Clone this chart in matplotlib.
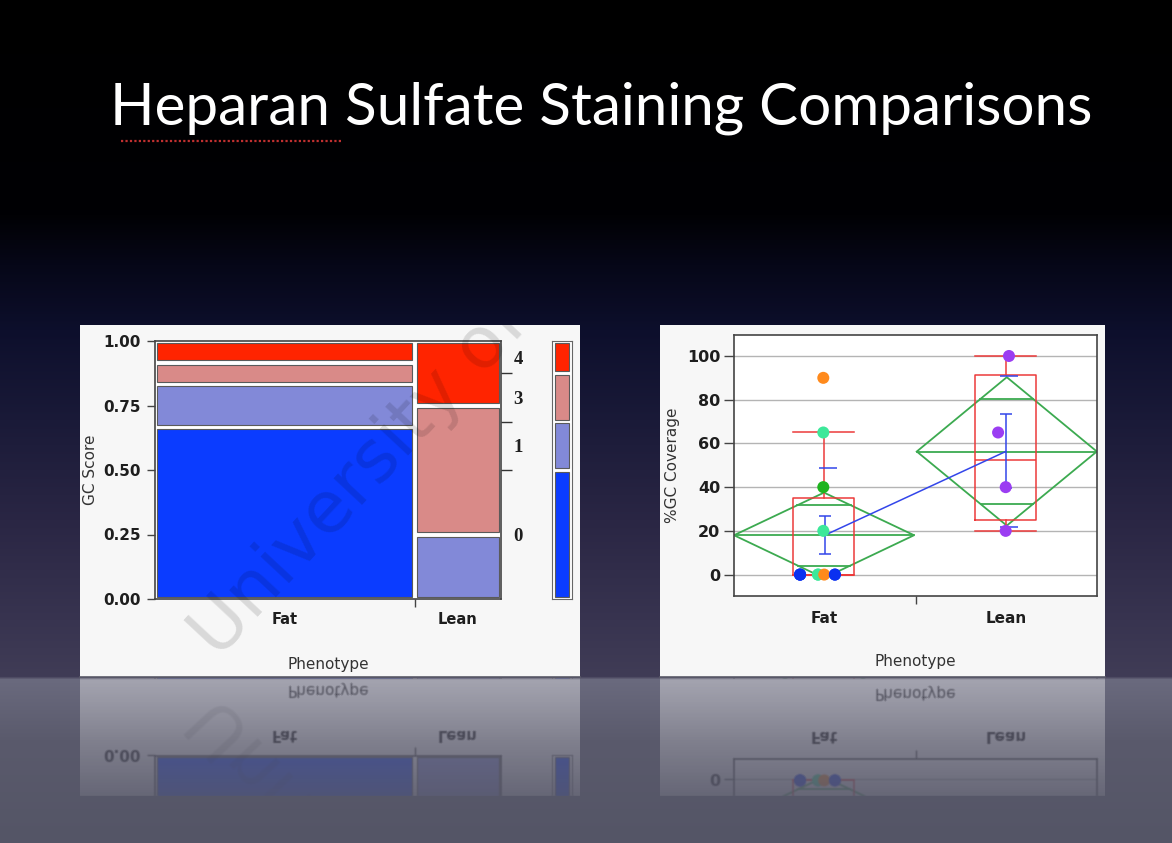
import numpy as np
import matplotlib.pyplot as plt
from matplotlib.patches import Rectangle, Polygon
from matplotlib.lines import Line2D

W, H = 1172, 843

title = 'Heparan Sulfate Staining Comparisons'

# GC score mosaic: number of animals at each score level per phenotype
phenotypes = ['Fat', 'Lean']
gc_levels = ['0', '1', '3', '4']
gc_colors = ['#0b3cff', '#8289d8', '#d98a88', '#ff2400']
fat_counts = [8, 2, 1, 1]
lean_counts = [0, 1, 2, 1]

# %GC coverage, one point per animal (x = jittered position)
fat_cov = [0, 0, 0, 0, 0, 0, 0, 0, 20, 40, 65, 90]
fat_jit = [0.364, 0.364, 0.364, 0.463, 0.463, 0.497, 0.556, 0.556,
           0.492, 0.492, 0.492, 0.492]
fat_pc = (['#0a30f0'] * 3 + ['#3de89a'] * 2 + ['#ff8a1c'] + ['#0a30f0'] * 2
          + ['#3de89a', '#1fb41f', '#3de89a', '#ff8a1c'])
lean_cov = [20, 40, 65, 100]
lean_jit = [1.497, 1.497, 1.455, 1.515]
lean_pc = ['#9b3df2'] * 4

# per-phenotype summaries (Fat, Lean)
grp_x = [0.496, 1.503]
grp_mean = [18.0, 56.3]
ci_low = [-1.6, 22.4]
ci_high = [37.5, 90.3]
ovl_low = [4.1, 32.3]
ovl_high = [31.7, 80.3]
err_x = [0.50, 1.497]
se_low = [9.2, 39.4]
se_high = [26.8, 73.6]
sd_marks = [[48.8], [21.8, 90.9]]
box_x = [0.495, 1.496]
box_q1 = [0, 25]
box_med = [0, 52.5]
box_q3 = [35, 91.3]
whisk_lo = [0, 20]
whisk_hi = [65, 100]


def px(x0, y0, x1, y1):
    return [x0 / W, 1 - y1 / H, (x1 - x0) / W, (y1 - y0) / H]


fig = plt.figure(figsize=(W / 100, H / 100), dpi=100)

# slide background
bg = fig.add_axes([0, 0, 1, 1], zorder=-3)
stop_y = [0, 215, 265, 330, 420, 520, 620, 676, 679, 740, 843]
stop_rgb = np.array([(0, 0, 0), (1, 1, 4), (6, 7, 24), (13, 15, 44), (26, 26, 56),
                     (42, 38, 68), (56, 52, 80), (64, 60, 86), (106, 106, 126),
                     (90, 90, 108), (84, 85, 102)]) / 255
rows = np.arange(H)
grad = np.stack([np.interp(rows, stop_y, stop_rgb[:, k]) for k in range(3)], axis=1)
bg.imshow(grad[:, None, :], aspect='auto', extent=(0, 1, 0, 1), interpolation='bilinear')
bg.set_axis_off()

fig.text(601 / W, 1 - 108 / H, title, color='white', fontsize=42, family='Lato',
         ha='center', va='center')
fig.add_artist(Line2D([121 / W, 341 / W], [1 - 141 / H] * 2, color='#c03030',
                      lw=1.6, ls=(0, (1, 1))))

# white panels
for x0, x1 in [(80, 580), (660, 1105)]:
    fig.add_artist(Rectangle((x0 / W, 1 - 677 / H), (x1 - x0) / W, (677 - 325) / H,
                             facecolor='#f7f7f7', edgecolor='none', zorder=-2))
    fig.add_artist(Line2D([x0 / W, x1 / W], [1 - 677 / H] * 2, color='#5a5a68',
                          lw=1.2, zorder=-1))

dark = '#1e1e1e'
lab = '#333333'

# ---- mosaic plot ----
axm = fig.add_axes(px(155, 341, 501, 599))
axm.set_xlim(0, 1)
axm.set_ylim(0, 1)
tot = np.array([sum(fat_counts), sum(lean_counts)])
col_w = tot / tot.sum()
col_x = np.concatenate([[0], np.cumsum(col_w)])
gx, gy = 0.007, 0.009
for j, counts in enumerate([fat_counts, lean_counts]):
    frac = np.array(counts) / sum(counts)
    bottoms = np.concatenate([[0], np.cumsum(frac)[:-1]])
    for k in range(len(gc_levels)):
        if frac[k] == 0:
            continue
        axm.add_patch(Rectangle((col_x[j] + gx, bottoms[k] + gy), col_w[j] - 2 * gx,
                                frac[k] - 2 * gy, fc=gc_colors[k], ec='#5a5a5a', lw=0.8))
for s in axm.spines.values():
    s.set_color('#444444')
    s.set_linewidth(1.2)
axm.set_yticks([0, 0.25, 0.5, 0.75, 1.0],
               labels=['0.00', '0.25', '0.50', '0.75', '1.00'],
               fontweight='bold', fontsize=11, color=dark)
axm.set_xticks([col_x[1]], labels=[''])
axm.set_xticks((col_x[:-1] + col_x[1:]) / 2, labels=phenotypes, minor=True,
               fontweight='bold', fontsize=10.5, color=dark)
axm.tick_params(axis='y', length=6, width=1, color='#444444', pad=4)
axm.tick_params(axis='x', which='major', length=6, width=1, color='#444444')
axm.tick_params(axis='x', which='minor', length=0, pad=9)
axm.set_ylabel('GC Score', fontsize=11, color=lab, labelpad=4)
axm.set_xlabel('Phenotype', fontsize=11, color=lab, labelpad=22)

overall = np.array(fat_counts) + np.array(lean_counts)
cum = np.cumsum(overall) / overall.sum()
cum0 = np.concatenate([[0], cum])
axr = axm.twinx()
axr.set_ylim(0, 1)
axr.set_yticks(cum[:-1], labels=[''] * (len(cum) - 1))
axr.set_yticks((cum0[:-1] + cum0[1:]) / 2, labels=gc_levels, minor=True,
               fontweight='bold', fontsize=13.5, family='Liberation Serif', color=dark)
axr.tick_params(axis='y', which='major', length=8, width=1, color='#333333')
axr.tick_params(axis='y', which='minor', length=0, pad=9)
for s in axr.spines.values():
    s.set_visible(False)

# overall share bar
axl = fig.add_axes(px(552, 341, 572, 599))
axl.set_xlim(0, 1)
axl.set_ylim(0, 1)
for k in range(len(gc_levels)):
    axl.add_patch(Rectangle((0.17, cum0[k] + 0.007), 0.66, cum0[k + 1] - cum0[k] - 0.014,
                            fc=gc_colors[k], ec='#5a5a5a', lw=0.8))
axl.set_xticks([])
axl.set_yticks([])
for s in axl.spines.values():
    s.set_color('#666666')

# ---- coverage by phenotype ----
green = '#3caa50'
red = '#ec3a3a'
blue = '#3346ea'
axc = fig.add_axes(px(734, 335, 1097, 596))
axc.set_xlim(0, 2)
axc.set_ylim(-9.8, 109.6)
axc.yaxis.grid(True, color='#b4b4b4', lw=1)
axc.set_axisbelow(True)
axc.set_facecolor('white')
for s in axc.spines.values():
    s.set_color('#444444')
    s.set_linewidth(1.2)

half = 0.496
for i in range(2):
    cx, m = grp_x[i], grp_mean[i]
    axc.add_patch(Polygon([[cx - half, m], [cx, ci_high[i]], [cx + half, m], [cx, ci_low[i]]],
                          closed=True, fill=False, ec=green, lw=1.3, zorder=2))
    axc.plot([cx - half, cx + half], [m, m], color=green, lw=1.3, zorder=2)
    for h, tip in [(ovl_high[i], ci_high[i]), (ovl_low[i], ci_low[i])]:
        w = half * (1 - (h - m) / (tip - m))
        axc.plot([cx - w, cx + w], [h, h], color=green, lw=1.3, zorder=2)

stats = [dict(med=box_med[i], q1=box_q1[i], q3=box_q3[i], whislo=whisk_lo[i],
              whishi=whisk_hi[i], fliers=[]) for i in range(2)]
lp = dict(color=red, lw=1.1)
axc.bxp(stats, positions=box_x, widths=0.336, capwidths=0.336, showfliers=False,
        manage_ticks=False, boxprops=lp, whiskerprops=lp, capprops=lp, medianprops=lp,
        zorder=3)

axc.plot(err_x, grp_mean, color=blue, lw=1.1, zorder=4)
axc.errorbar(err_x, grp_mean,
             yerr=[np.array(grp_mean) - np.array(se_low), np.array(se_high) - np.array(grp_mean)],
             fmt='none', ecolor=blue, elinewidth=1.1, capsize=4, capthick=1.1, zorder=4)
for i, marks in enumerate(sd_marks):
    axc.hlines(marks, err_x[i] - 0.03, err_x[i] + 0.065, color=blue, lw=1.1, zorder=4)

axc.scatter(fat_jit, fat_cov, s=75, c=fat_pc, linewidths=0, zorder=5)
axc.scatter(lean_jit, lean_cov, s=75, c=lean_pc, linewidths=0, zorder=5)

axc.set_yticks(range(0, 101, 20), labels=[str(v) for v in range(0, 101, 20)],
               fontweight='bold', fontsize=11.5, color=dark)
axc.set_xticks([1.0], labels=[''])
axc.set_xticks([0.5, 1.5], labels=phenotypes, minor=True, fontweight='bold',
               fontsize=11, color=dark)
axc.tick_params(axis='y', length=7, width=1, color='#444444', pad=3)
axc.tick_params(axis='x', which='major', length=6, width=1, color='#444444')
axc.tick_params(axis='x', which='minor', length=0, pad=11)
axc.set_ylabel('%GC Coverage', fontsize=11, color=lab, labelpad=5)
axc.set_xlabel('Phenotype', fontsize=11, color=lab, labelpad=20)

# faint watermark over the left panel
axw = fig.add_axes(px(80, 325, 580, 677), zorder=6)
axw.set_xlim(80, 580)
axw.set_ylim(677, 325)
axw.set_axis_off()
axw.text(218, 660, 'University of', rotation=47, rotation_mode='anchor', ha='left',
         va='baseline', fontsize=52, color='black', alpha=0.12, clip_on=True)

# mirrored reflection below the panels
fig.canvas.draw()
snap = np.asarray(fig.canvas.buffer_rgba())[:, :, :3].astype(float) / 255
depth = 118
fade = np.linspace(0.42, 0.1, depth)
for x0, x1 in [(80, 580), (660, 1105)]:
    piece = snap[677 - depth:677, x0:x1][::-1]
    piece = (piece + np.roll(piece, 1, axis=0) + np.roll(piece, -1, axis=0)
             + np.roll(piece, 1, axis=1) + np.roll(piece, -1, axis=1)) / 5
    rgba = np.dstack([piece, np.repeat(fade[:, None], x1 - x0, axis=1)])
    fig.figimage(rgba, xo=x0, yo=H - 678 - depth, origin='upper', zorder=1)

fig.savefig('out.png', dpi=100)
